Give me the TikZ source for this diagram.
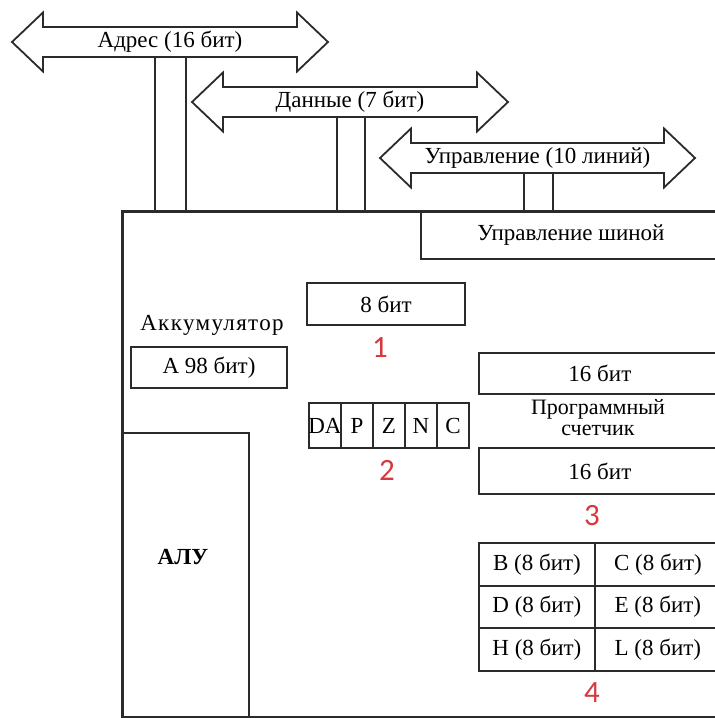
\documentclass[tikz,border=0pt]{standalone}
\usepackage{fontspec}
\setmainfont{Liberation Serif}
\newfontfamily\nomerfont{Carlito}
\usepackage{tikz}
\definecolor{chernyi}{HTML}{2B2B2B}
\definecolor{krasnyi}{HTML}{D8383C}

\begin{document}
\begin{tikzpicture}[x=1pt,y=-1pt,line join=miter,
  font=\fontsize{23}{25}\selectfont,
  ramka/.style={draw=chernyi,line width=1.8pt,inner sep=0pt},
  shina/.style={draw=chernyi,line width=1.8pt},
  nomer/.style={text=krasnyi,inner sep=0pt,font=\nomerfont\fontsize{31}{31}\selectfont}]
\useasboundingbox (0,0) rectangle (715,718);
% шины
\foreach \xl/\xr/\yc/\nm/\txt in {12/328/42/adr/{Адрес (16 бит)},192/508/102/dan/{Данные (7 бит)},380/695/158/upr/{Управление (10 линий)}}{
  \draw[shina] (\xl,\yc) -- (\xl+31,\yc-29.5) -- (\xl+31,\yc-15) -- (\xr-31,\yc-15) -- (\xr-31,\yc-29.5) -- (\xr,\yc)
    -- (\xr-31,\yc+29.5) -- (\xr-31,\yc+15) -- (\xl+31,\yc+15) -- (\xl+31,\yc+29.5) -- cycle;
  \node[inner sep=0pt] (\nm) at ({(\xl+\xr)/2},\yc) {\txt};
}
\coordinate (adr1) at (155,57); \coordinate (adr2) at (186,57);
\coordinate (dan1) at (337,117); \coordinate (dan2) at (365,117);
\coordinate (upr1) at (524,173); \coordinate (upr2) at (553,173);
% процессор
\node[draw=chernyi,line width=3pt,minimum width=610,minimum height=506,anchor=north west] (cpu) at (121,210) {};
\foreach \c in {adr1,adr2,dan1,dan2,upr1,upr2} \draw[shina] (\c) -- (\c |- cpu.north);
\node[ramka,minimum width=300,minimum height=48,anchor=north west] (shinaUpr) at (420,210) {Управление шиной};
% аккумулятор
\node (akkTxt) at (212,325) {\addfontfeature{LetterSpace=6}Аккумулятор};
\node[ramka,minimum width=156,minimum height=41] (akk) at (209,367.5) {А 98 бит)};
% 1
\node[ramka,minimum width=158,minimum height=42] (reg8) at (386,304) {8 бит};
\node[nomer] (n1) at (380,348) {1};
% 2 флаги
\foreach \f [count=\i from 0] in {DA,P,Z,N,C}
  \node[ramka,minimum width=32,minimum height=45] (flag\i) at (325+32*\i,425.5) {\makebox[0pt]{\f}};
\node[nomer] (n2) at (387,470) {2};
% 3 счетчик
\node[ramka,minimum width=242,minimum height=41,anchor=north west] (pc1) at (478,352) {16 бит};
\node[align=center,inner sep=0pt,font=\fontsize{22}{21}\selectfont] (pcTxt) at (598,418) {Программный\\счетчик};
\node[ramka,minimum width=242,minimum height=46,anchor=north west] (pc2) at (478,447) {16 бит};
\node[nomer] (n3) at (592,516) {3};
% 4 регистры
\foreach \lv/\pv [count=\r from 0] in {B/C,D/E,H/L}{
  \node[ramka,minimum width=116,minimum height=42.7,anchor=north west] (regL\r) at (478,542+42.7*\r) {\lv\ (8 бит)};
  \node[ramka,minimum width=126,minimum height=42.7,anchor=north west] (regR\r) at (594,542+42.7*\r) {\pv\ (8 бит)};
}
\node[nomer] (n4) at (592,693) {4};
% АЛУ
\node[ramka,minimum width=127,minimum height=284,anchor=north west] (alu) at (121,432) {};
\node[font=\bfseries\fontsize{23}{25}\selectfont] (aluTxt) at (183,557) {АЛУ};
\end{tikzpicture}
\end{document}
